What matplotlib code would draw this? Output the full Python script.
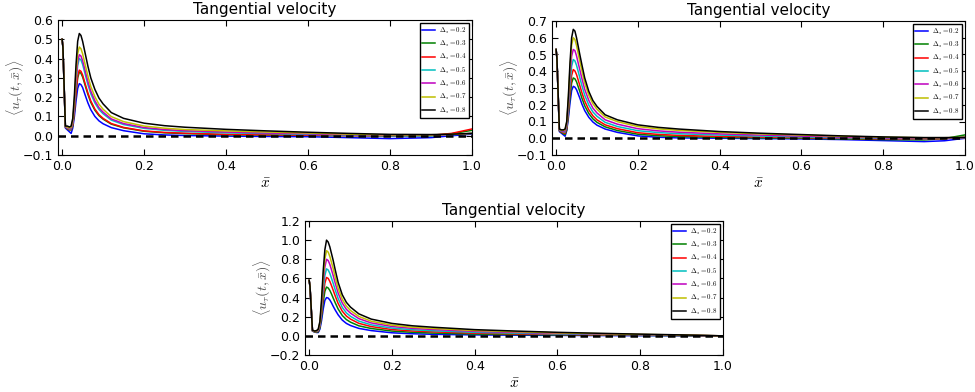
import numpy as np
import matplotlib
matplotlib.use('Agg')
import matplotlib.pyplot as plt

plt.rcParams['mathtext.fontset'] = 'cm'
plt.rcParams['xtick.direction'] = 'in'
plt.rcParams['ytick.direction'] = 'in'
plt.rcParams['xtick.top'] = True
plt.rcParams['ytick.right'] = True
plt.rcParams['xtick.major.size'] = 4
plt.rcParams['ytick.major.size'] = 4

# sample positions along the wall (same for every panel)
x = [0.0, 0.002, 0.008, 0.013, 0.018, 0.022, 0.026, 0.030, 0.034, 0.038, 0.042,
     0.046, 0.050, 0.054, 0.058, 0.063, 0.07, 0.08, 0.09, 0.10, 0.12, 0.15, 0.20,
     0.25, 0.30, 0.40, 0.50, 0.60, 0.70, 0.80, 0.90, 0.95, 1.00]

deltas = ['0.2', '0.3', '0.4', '0.5', '0.6', '0.7', '0.8']
colors = ['b', 'g', 'r', 'c', 'm', 'y', 'k']

# panel 1 (top left)
p1_b = [0.50, 0.46, 0.04, 0.03, 0.02, 0.012, 0.04, 0.10, 0.18, 0.245, 0.27, 0.265, 0.25, 0.225, 0.20, 0.17, 0.135, 0.10, 0.077, 0.062, 0.042, 0.026, 0.010, 0.004, 0.001, -0.002, -0.004, -0.005, -0.01, -0.015, -0.01, 0.0, 0.008]
p1_g = [0.50, 0.46, 0.045, 0.035, 0.03, 0.03, 0.05, 0.125, 0.22, 0.3, 0.33, 0.324, 0.305, 0.277, 0.248, 0.214, 0.173, 0.132, 0.104, 0.086, 0.06, 0.041, 0.023, 0.015, 0.011, 0.005, 0.003, 0.002, 0.0, -0.002, 0.0, 0.01, 0.028]
p1_r = [0.50, 0.46, 0.045, 0.037, 0.032, 0.032, 0.055, 0.13, 0.23, 0.31, 0.34, 0.334, 0.315, 0.286, 0.257, 0.221, 0.18, 0.138, 0.109, 0.09, 0.063, 0.043, 0.025, 0.017, 0.013, 0.007, 0.005, 0.003, 0.001, 0.0, 0.002, 0.012, 0.035]
p1_c = [0.50, 0.46, 0.047, 0.04, 0.035, 0.036, 0.065, 0.155, 0.275, 0.365, 0.40, 0.393, 0.37, 0.338, 0.305, 0.265, 0.218, 0.17, 0.136, 0.114, 0.081, 0.058, 0.038, 0.028, 0.022, 0.015, 0.011, 0.007, 0.003, 0.0, 0.0, 0.005, 0.012]
p1_m = [0.50, 0.46, 0.048, 0.042, 0.037, 0.04, 0.07, 0.165, 0.29, 0.385, 0.42, 0.413, 0.389, 0.356, 0.322, 0.28, 0.231, 0.181, 0.145, 0.122, 0.087, 0.063, 0.042, 0.032, 0.026, 0.019, 0.014, 0.01, 0.005, 0.002, 0.002, 0.006, 0.012]
p1_y = [0.50, 0.46, 0.049, 0.045, 0.04, 0.045, 0.08, 0.185, 0.325, 0.425, 0.46, 0.451, 0.425, 0.389, 0.353, 0.309, 0.255, 0.202, 0.163, 0.137, 0.099, 0.073, 0.05, 0.039, 0.032, 0.025, 0.019, 0.014, 0.008, 0.004, 0.004, 0.007, 0.012]
p1_k = [0.50, 0.46, 0.05, 0.05, 0.045, 0.05, 0.09, 0.21, 0.37, 0.49, 0.53, 0.52, 0.49, 0.45, 0.41, 0.36, 0.30, 0.24, 0.195, 0.165, 0.12, 0.09, 0.065, 0.052, 0.044, 0.033, 0.025, 0.018, 0.012, 0.007, 0.006, 0.008, 0.012]

# panel 2 (top right)
p2_b = [0.53, 0.48, 0.04, 0.03, 0.02, 0.012, 0.045, 0.12, 0.21, 0.285, 0.31, 0.305, 0.29, 0.265, 0.24, 0.205, 0.165, 0.125, 0.097, 0.078, 0.055, 0.035, 0.014, 0.006, 0.002, 0.0, -0.002, -0.004, -0.008, -0.014, -0.02, -0.015, 0.0]
p2_g = [0.53, 0.48, 0.045, 0.035, 0.027, 0.022, 0.05, 0.14, 0.245, 0.33, 0.36, 0.355, 0.337, 0.308, 0.279, 0.24, 0.194, 0.148, 0.116, 0.095, 0.068, 0.046, 0.024, 0.015, 0.01, 0.005, 0.002, 0.0, -0.004, -0.008, -0.01, -0.002, 0.02]
p2_r = [0.53, 0.48, 0.047, 0.038, 0.032, 0.03, 0.06, 0.16, 0.28, 0.375, 0.41, 0.402, 0.38, 0.348, 0.315, 0.273, 0.222, 0.17, 0.134, 0.11, 0.08, 0.057, 0.033, 0.023, 0.017, 0.011, 0.007, 0.004, 0.0, -0.004, -0.006, -0.002, 0.005]
p2_c = [0.53, 0.48, 0.05, 0.042, 0.038, 0.038, 0.072, 0.185, 0.325, 0.43, 0.47, 0.462, 0.436, 0.399, 0.362, 0.315, 0.257, 0.198, 0.157, 0.131, 0.095, 0.07, 0.045, 0.034, 0.027, 0.019, 0.013, 0.008, 0.003, -0.001, -0.003, 0.0, 0.004]
p2_m = [0.53, 0.48, 0.052, 0.045, 0.042, 0.044, 0.082, 0.21, 0.37, 0.49, 0.53, 0.523, 0.492, 0.45, 0.409, 0.358, 0.292, 0.226, 0.18, 0.151, 0.11, 0.084, 0.057, 0.044, 0.036, 0.026, 0.019, 0.013, 0.007, 0.002, 0.0, 0.001, 0.004]
p2_y = [0.53, 0.48, 0.054, 0.048, 0.047, 0.051, 0.093, 0.235, 0.415, 0.555, 0.60, 0.59, 0.554, 0.507, 0.461, 0.405, 0.331, 0.257, 0.206, 0.173, 0.127, 0.099, 0.07, 0.056, 0.047, 0.035, 0.026, 0.019, 0.012, 0.006, 0.003, 0.003, 0.005]
p2_k = [0.53, 0.48, 0.055, 0.05, 0.05, 0.055, 0.1, 0.25, 0.45, 0.6, 0.65, 0.64, 0.6, 0.55, 0.5, 0.44, 0.36, 0.28, 0.225, 0.19, 0.14, 0.11, 0.08, 0.065, 0.055, 0.04, 0.03, 0.022, 0.014, 0.008, 0.004, 0.004, 0.005]

# panel 3 (bottom)
p3_b = [0.58, 0.52, 0.05, 0.04, 0.035, 0.035, 0.07, 0.16, 0.28, 0.37, 0.40, 0.395, 0.375, 0.345, 0.31, 0.27, 0.22, 0.165, 0.13, 0.108, 0.078, 0.055, 0.032, 0.022, 0.016, 0.01, 0.007, 0.005, 0.003, 0.002, 0.001, 0.0, -0.002]
p3_g = [0.58, 0.52, 0.052, 0.042, 0.039, 0.042, 0.085, 0.2, 0.35, 0.465, 0.51, 0.5, 0.475, 0.438, 0.396, 0.346, 0.281, 0.213, 0.17, 0.143, 0.105, 0.077, 0.05, 0.037, 0.029, 0.019, 0.014, 0.01, 0.007, 0.005, 0.003, 0.001, -0.001]
p3_r = [0.58, 0.52, 0.054, 0.044, 0.043, 0.05, 0.1, 0.235, 0.415, 0.55, 0.61, 0.6, 0.569, 0.525, 0.478, 0.417, 0.339, 0.258, 0.207, 0.175, 0.131, 0.097, 0.066, 0.051, 0.042, 0.028, 0.021, 0.015, 0.011, 0.008, 0.005, 0.002, -0.001]
p3_c = [0.58, 0.52, 0.056, 0.046, 0.046, 0.056, 0.112, 0.27, 0.475, 0.63, 0.70, 0.688, 0.653, 0.603, 0.55, 0.48, 0.39, 0.298, 0.24, 0.204, 0.154, 0.115, 0.081, 0.064, 0.053, 0.037, 0.028, 0.02, 0.015, 0.01, 0.006, 0.003, 0.0]
p3_m = [0.58, 0.52, 0.058, 0.048, 0.05, 0.062, 0.125, 0.305, 0.545, 0.72, 0.80, 0.787, 0.747, 0.69, 0.632, 0.551, 0.448, 0.343, 0.277, 0.237, 0.18, 0.135, 0.098, 0.078, 0.066, 0.047, 0.036, 0.026, 0.019, 0.013, 0.008, 0.004, 0.0]
p3_y = [0.58, 0.52, 0.059, 0.049, 0.053, 0.066, 0.138, 0.34, 0.61, 0.80, 0.89, 0.875, 0.83, 0.767, 0.704, 0.614, 0.499, 0.382, 0.31, 0.265, 0.203, 0.153, 0.112, 0.09, 0.077, 0.056, 0.043, 0.031, 0.023, 0.015, 0.009, 0.005, 0.0]
p3_k = [0.58, 0.52, 0.06, 0.05, 0.055, 0.07, 0.15, 0.38, 0.68, 0.9, 1.0, 0.98, 0.93, 0.86, 0.79, 0.69, 0.56, 0.43, 0.35, 0.3, 0.23, 0.175, 0.13, 0.105, 0.09, 0.065, 0.05, 0.037, 0.027, 0.018, 0.01, 0.005, 0.0]

panels = [
    ([p1_b, p1_g, p1_r, p1_c, p1_m, p1_y, p1_k], (-0.1, 0.6), 0.1, [58, 20, 414, 135]),
    ([p2_b, p2_g, p2_r, p2_c, p2_m, p2_y, p2_k], (-0.1, 0.7), 0.1, [552, 21, 413, 134]),
    ([p3_b, p3_g, p3_r, p3_c, p3_m, p3_y, p3_k], (-0.2, 1.2), 0.2, [305, 221, 418, 134]),
]

W, H = 975, 392
fig = plt.figure(figsize=(W / 100, H / 100), dpi=100)

for series, ylim, ystep, (l, t, w, h) in panels:
    ax = fig.add_axes([l / W, 1 - (t + h) / H, w / W, h / H])
    for ys, c, d in zip(series, colors, deltas):
        ax.plot(x, ys, color=c, lw=1.1, label=r'$\Delta_s=%s$' % d)
    ax.axhline(0, color='k', ls='--', lw=1.8, dashes=(3, 2), zorder=5)
    ax.set_xlim(-0.01, 1.0)
    ax.set_ylim(*ylim)
    ax.set_xticks(np.arange(0, 1.01, 0.2))
    ax.set_yticks(np.arange(ylim[0], ylim[1] + 0.001, ystep))
    ax.tick_params(labelsize=9)
    ax.set_title('Tangential velocity', fontsize=11, pad=4)
    ax.set_xlabel(r'$\bar{x}$', fontsize=11, labelpad=2)
    ax.set_ylabel(r'$\langle u_\tau(t,\bar{x})\rangle$', fontsize=10,
                  color='0.3', labelpad=-2)
    leg = ax.legend(loc='upper right', fontsize=5, handlelength=1.8,
                    labelspacing=0.45, fancybox=False, framealpha=1,
                    borderaxespad=0.4, handletextpad=0.6)
    leg.get_frame().set_edgecolor('k')

fig.savefig('out.png', dpi=100)
